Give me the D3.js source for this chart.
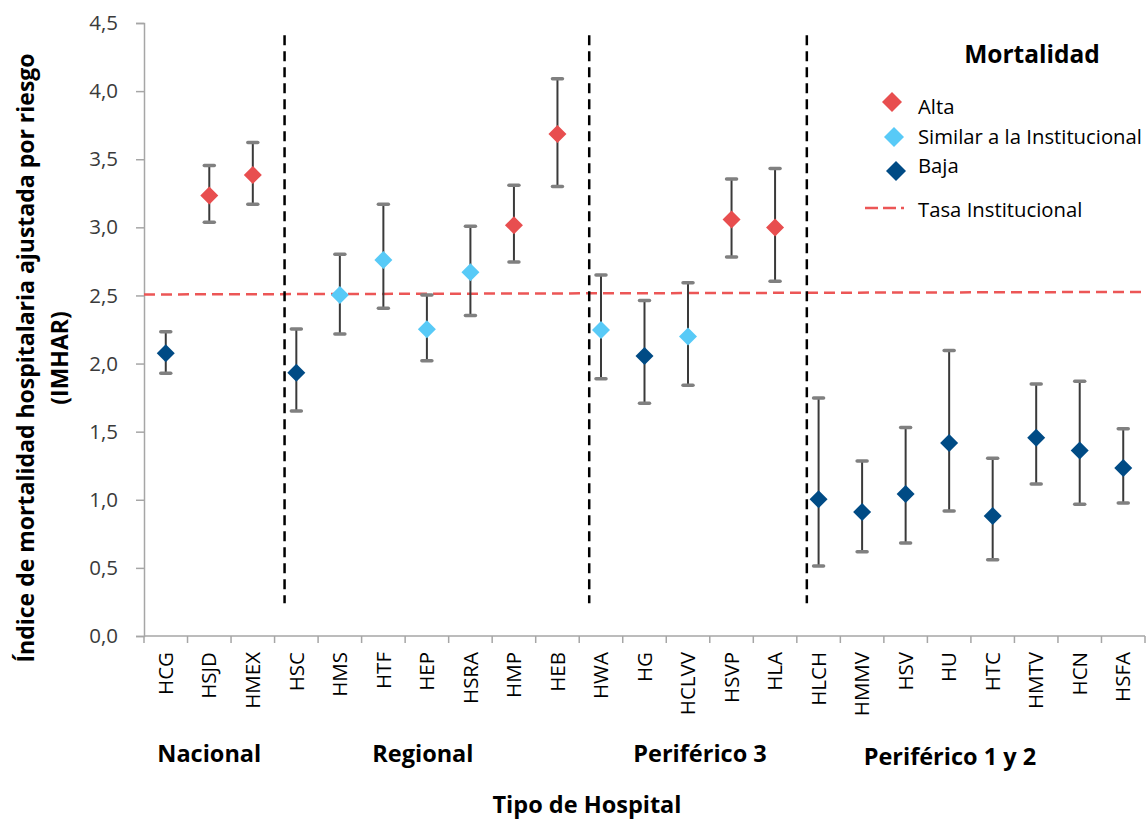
<!DOCTYPE html>
<html>
<head>
<meta charset="utf-8">
<script src="https://cdn.jsdelivr.net/npm/d3@7"></script>
<style>
  html, body { margin: 0; padding: 0; background: #fff; }
  svg { display: block; font-family: "Open Sans", sans-serif; }
</style>
</head>
<body>
<svg id="chart" width="1147" height="819"></svg>
<script>
// ---- Data ----
const categories = ["HCG","HSJD","HMEX","HSC","HMS","HTF","HEP","HSRA","HMP","HEB","HWA","HG","HCLVV","HSVP","HLA","HLCH","HMMV","HSV","HU","HTC","HMTV","HCN","HSFA"];
const values = [2.075,3.233,3.385,1.933,2.504,2.761,2.252,2.670,3.015,3.686,2.247,2.056,2.198,3.057,2.998,1.004,0.910,1.043,1.417,0.881,1.456,1.361,1.233];
const lowerCI = [1.929,3.037,3.170,1.652,2.217,2.406,2.021,2.352,2.746,3.299,1.889,1.708,1.841,2.783,2.604,0.514,0.619,0.683,0.918,0.560,1.116,0.967,0.976];
const upperCI = [2.234,3.453,3.622,2.254,2.802,3.170,2.504,3.008,3.309,4.090,2.650,2.462,2.594,3.355,3.431,1.747,1.285,1.530,2.095,1.305,1.850,1.870,1.522];
const mortality = ["Baja","Alta","Alta","Baja","Similar","Similar","Similar","Similar","Alta","Alta","Similar","Baja","Similar","Alta","Alta","Baja","Baja","Baja","Baja","Baja","Baja","Baja","Baja"];
const groupNames = ["Nacional","Regional","Periférico 3","Periférico 1 y 2"];
const groupSizes = [3,7,5,8];
const yTicks = [0,0.5,1,1.5,2,2.5,3,3.5,4,4.5];
const tasaInstitucional = [2.507, 2.526]; // start, end of reference line
const legendKeys = ["Alta","Similar","Baja"];
const legendLabels = ["Alta","Similar a la Institucional","Baja"];

// ---- Styles ----
const colors = { Alta: "#E84E4F", Similar: "#58CAF7", Baja: "#004B85" };
const svg = d3.select("#chart");

const x = d3.scaleBand().domain(categories).range([144, 1145]).padding(0);
const y = d3.scaleLinear().domain([0, 4.5]).range([636, 23]);
const bw = x.bandwidth();
const cx = c => x(c) + bw / 2;

// ---- Y axis ----
const yAxis = svg.append("g").attr("transform", "translate(144,0)")
  .call(d3.axisLeft(y).tickValues(yTicks).tickSize(8).tickPadding(18)
        .tickFormat(d => d3.format(".1f")(d).replace(".", ",")));
yAxis.select(".domain").attr("stroke", "#A6A6A6").attr("stroke-width", 1.5);
yAxis.selectAll(".tick line").attr("stroke", "#A6A6A6").attr("stroke-width", 1.5);
yAxis.selectAll(".tick text").attr("font-size", 20.5).attr("fill", "#3a3a3a")
  .attr("font-family", "Open Sans");

// ---- X axis ----
const xAxisG = svg.append("g");
xAxisG.append("line").attr("x1", 144).attr("x2", 1145).attr("y1", y(0)).attr("y2", y(0))
  .attr("stroke", "#A6A6A6").attr("stroke-width", 1.5);
const boundaries = d3.range(categories.length + 1).map(i => 144 + i * bw);
xAxisG.selectAll("line.tk").data(boundaries).join("line").attr("class", "tk")
  .attr("x1", d => d).attr("x2", d => d).attr("y1", y(0)).attr("y2", y(0) + 7)
  .attr("stroke", "#A6A6A6").attr("stroke-width", 1.5);
xAxisG.selectAll("text").data(categories).join("text")
  .attr("transform", d => `translate(${cx(d)},652) rotate(-90)`)
  .attr("text-anchor", "end").attr("dy", "0.35em")
  .attr("font-size", 20.5).attr("fill", "#000").text(d => d);

// ---- Institutional rate line ----
svg.append("line")
  .attr("x1", 144).attr("x2", 1145)
  .attr("y1", y(tasaInstitucional[0])).attr("y2", y(tasaInstitucional[1]))
  .attr("stroke", "#EC5656").attr("stroke-width", 2.5).attr("stroke-dasharray", "11,6");

// ---- Group dividers ----
let acc = 0;
const dividerIdx = [];
groupSizes.forEach((s, i) => { acc += s; if (i < groupSizes.length - 1) dividerIdx.push(acc); });
svg.selectAll("line.div").data(dividerIdx).join("line").attr("class", "div")
  .attr("x1", d => 144 + d * bw + 10).attr("x2", d => 144 + d * bw + 10)
  .attr("y1", y(4.41)).attr("y2", y(0.24))
  .attr("stroke", "#000").attr("stroke-width", 2.5).attr("stroke-dasharray", "10,6");

// ---- Error bars ----
const idx = d3.range(categories.length);
const eb = svg.append("g");
eb.selectAll("line.v").data(idx).join("line").attr("class", "v")
  .attr("x1", i => cx(categories[i])).attr("x2", i => cx(categories[i]))
  .attr("y1", i => y(lowerCI[i])).attr("y2", i => y(upperCI[i]))
  .attr("stroke", "#3a3a3a").attr("stroke-width", 2);
["lo","hi"].forEach(k => {
  eb.selectAll("line.cap" + k).data(idx).join("line").attr("class", "cap" + k)
    .attr("x1", i => cx(categories[i]) - 5).attr("x2", i => cx(categories[i]) + 5)
    .attr("y1", i => y(k === "lo" ? lowerCI[i] : upperCI[i]))
    .attr("y2", i => y(k === "lo" ? lowerCI[i] : upperCI[i]))
    .attr("stroke", "#808080").attr("stroke-width", 3.5).attr("stroke-linecap", "round");
});

// ---- Points (diamonds) ----
const diamond = r => `M0,${-r}L${r},0L0,${r}L${-r},0Z`;
svg.append("g").selectAll("path").data(idx).join("path")
  .attr("d", diamond(9))
  .attr("transform", i => `translate(${cx(categories[i])},${y(values[i])})`)
  .attr("fill", i => colors[mortality[i]]);

// ---- Group labels ----
const labelShift = [0, -4, 12, -21];
let start = 0;
groupNames.forEach((g, i) => {
  const center = 144 + (start + groupSizes[i] / 2) * bw + labelShift[i];
  svg.append("text").attr("x", center).attr("y", i === 3 ? 765 : 762)
    .attr("text-anchor", "middle").attr("font-size", 23.5).attr("font-weight", "bold")
    .attr("fill", "#000").text(g);
  start += groupSizes[i];
});

// ---- Axis titles ----
svg.append("text").attr("x", 587).attr("y", 813).attr("text-anchor", "middle")
  .attr("font-size", 23.5).attr("font-weight", "bold").attr("fill", "#000").text("Tipo de Hospital");
const yt = svg.append("g").attr("font-size", 23).attr("font-weight", "bold").attr("fill", "#000");
yt.append("text").attr("transform", "translate(34,358) rotate(-90)").attr("text-anchor", "middle")
  .text("Índice de mortalidad hospitalaria ajustada por riesgo");
yt.append("text").attr("transform", "translate(68,358) rotate(-90)").attr("text-anchor", "middle")
  .text("(IMHAR)");

// ---- Legend ----
const lg = svg.append("g");
lg.append("text").attr("x", 1032).attr("y", 63).attr("text-anchor", "middle")
  .attr("font-size", 24.5).attr("font-weight", "bold").text("Mortalidad");
const legY = [102, 137, 171];
const legTextY = [114, 144, 173];
const legX = [892, 894, 896];
legendKeys.forEach((k, i) => {
  lg.append("path").attr("d", diamond(10)).attr("transform", `translate(${legX[i]},${legY[i]})`)
    .attr("fill", colors[k]);
  lg.append("text").attr("x", 918).attr("y", legTextY[i]).attr("font-size", 20.3)
    .attr("fill", "#000").text(legendLabels[i]);
});
lg.append("line").attr("x1", 865).attr("x2", 904).attr("y1", 208).attr("y2", 208)
  .attr("stroke", "#EC5656").attr("stroke-width", 2.5).attr("stroke-dasharray", "13,5");
lg.append("text").attr("x", 918).attr("y", 217).attr("font-size", 20.3).attr("fill", "#000")
  .text("Tasa Institucional");
</script>
</body>
</html>
